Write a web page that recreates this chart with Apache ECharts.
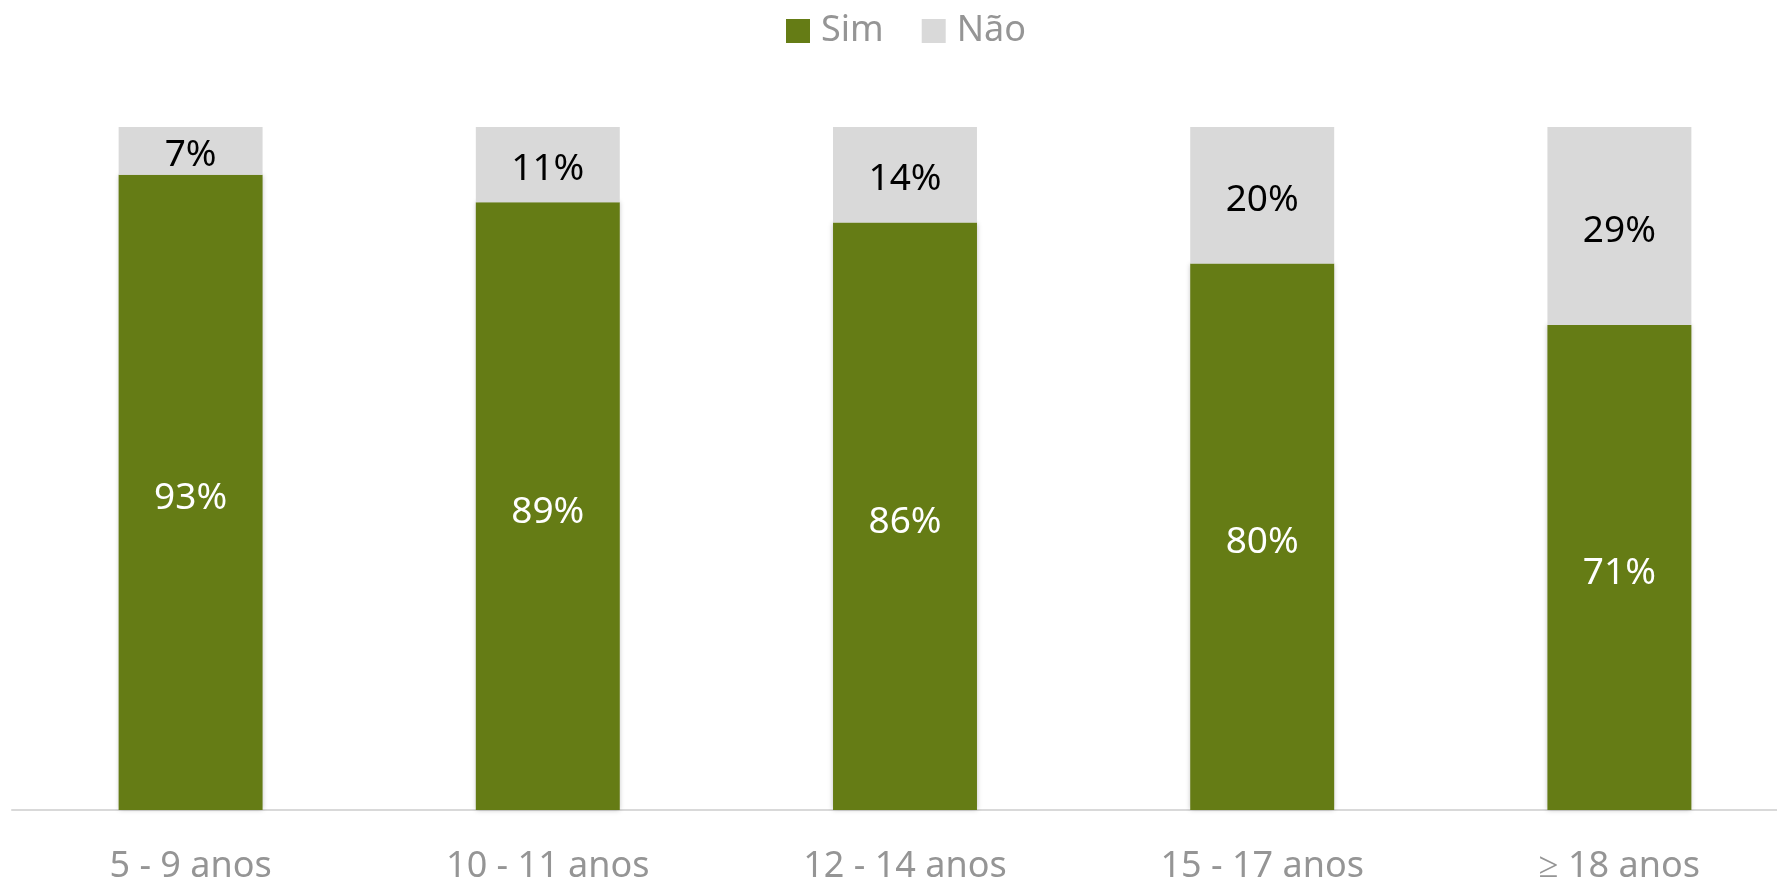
<!DOCTYPE html>
<html>
<head>
<meta charset="utf-8">
<script src="https://cdn.jsdelivr.net/npm/echarts@6/dist/echarts.min.js"></script>
<style>
html,body{margin:0;padding:0;background:#fff;overflow:hidden;}
#chart{width:1798px;height:885px;}
</style>
</head>
<body>
<div id="chart"></div>
<script>
const categories = ['5 - 9 anos', '10 - 11 anos', '12 - 14 anos', '15 - 17 anos', '≥ 18 anos'];
const simValues = [93, 89, 86, 80, 71];
const naoValues = [7, 11, 14, 20, 29];
const seriesNames = ['Sim', 'Não'];

const FONT = 'Noto Sans';
const chart = echarts.init(document.getElementById('chart'), null, {renderer: 'canvas'});
const barShadow = {shadowColor: 'rgba(0,0,0,0.25)', shadowBlur: 5};
chart.setOption({
  animation: false,
  legend: {
    top: 13,
    left: 786,
    padding: 0,
    icon: 'rect',
    itemWidth: 24,
    itemHeight: 24,
    itemGap: 38,
    textStyle: {fontFamily: FONT, fontSize: 36, color: '#959595', padding: [0, 0, 0, 6]},
    data: seriesNames
  },
  grid: {left: 12, right: 0, top: 127, bottom: 75, outerBoundsMode: 'none'},
  xAxis: {
    type: 'category',
    data: categories,
    axisLine: {show: true, lineStyle: {color: '#D9D9D9', width: 2}},
    axisTick: {show: false},
    axisLabel: {fontFamily: FONT, fontSize: 36, color: '#959595', margin: 39}
  },
  yAxis: {
    type: 'value', min: 0, max: 100, interval: 20,
    show: false
  },
  series: [
    {
      name: seriesNames[0], type: 'bar', stack: 'total', barWidth: '40.3%',
      data: simValues,
      itemStyle: Object.assign({color: '#657C15'}, barShadow),
      label: {show: true, position: 'inside', offset: [0, 6], formatter: '{c}%', fontFamily: FONT, fontSize: 37, color: '#FFFFFF'}
    },
    {
      name: seriesNames[1], type: 'bar', stack: 'total', barWidth: '40.3%',
      data: naoValues,
      itemStyle: {color: '#D9D9D9'},
      label: {show: true, position: 'inside', offset: [0, 5], formatter: '{c}%', fontFamily: FONT, fontSize: 37, color: '#000000'}
    }
  ]
});
</script>
</body>
</html>
